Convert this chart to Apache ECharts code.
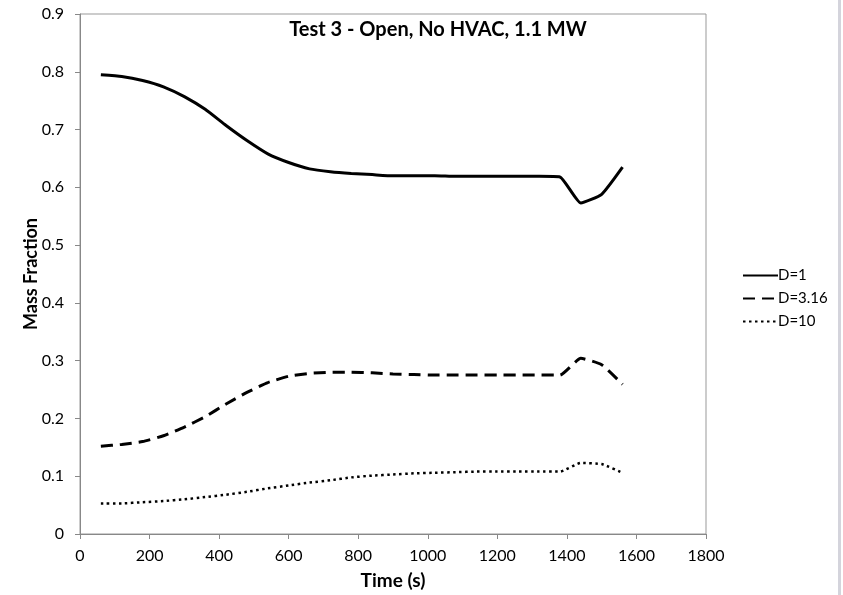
<!DOCTYPE html>
<html>
<head>
<meta charset="utf-8">
<script src="https://cdn.jsdelivr.net/npm/echarts@6/dist/echarts.min.js"></script>
<style>
    html, body { margin: 0; padding: 0; background: #fff; }
    #main { width: 843px; height: 595px; }
</style>
</head>
<body>
<div id="main"></div>
<script>
// 时间 (s)
var times = [60, 120, 180, 240, 300, 360, 420, 480, 540, 600, 660, 720, 780, 840, 900,
    960, 1020, 1080, 1140, 1200, 1260, 1320, 1380, 1440, 1500, 1560]

var d1 = [0.795, 0.792, 0.785, 0.774, 0.757, 0.735, 0.707, 0.681, 0.658, 0.643, 0.632, 0.627, 0.624,
    0.622, 0.620, 0.620, 0.620, 0.619, 0.619, 0.619, 0.619, 0.619, 0.618, 0.573, 0.588, 0.635]

var d316 = [0.152, 0.155, 0.160, 0.170, 0.185, 0.203, 0.225, 0.245, 0.262, 0.273, 0.278, 0.280, 0.280,
    0.279, 0.277, 0.276, 0.275, 0.275, 0.275, 0.275, 0.275, 0.275, 0.275, 0.304, 0.293, 0.259]

var d10 = [0.053, 0.053, 0.055, 0.057, 0.060, 0.064, 0.068, 0.073, 0.079, 0.084, 0.089, 0.093, 0.098,
    0.101, 0.103, 0.105, 0.106, 0.107, 0.108, 0.108, 0.108, 0.108, 0.108, 0.123, 0.121, 0.106]

var seriesNames = ['D=1', 'D=3.16', 'D=10']

function pairs(xs, ys){
    return xs.map(function(x, i){ return [x, ys[i]] })
}

var font = 'Lato, "Open Sans", sans-serif'
var axisGray = '#888888'

var chart = echarts.init(document.getElementById('main'))
var option = {
    animation: false,
    backgroundColor: '#fff',
    textStyle: { fontFamily: font },
    title: {
        text: 'Test 3 - Open, No HVAC, 1.1 MW',
        left: 433,
        textAlign: 'center',
        top: 15,
        textStyle: { fontSize: 20, fontWeight: 'bold', color: '#000', fontFamily: font }
    },
    grid: {
        left: 80,
        right: 137,
        top: 14,
        bottom: 61,
        show: true,
        borderColor: '#999999',
        borderWidth: 1
    },
    legend: {
        orient: 'vertical',
        left: 737,
        top: 263,
        itemWidth: 35,
        itemHeight: 14,
        itemGap: 8,
        itemStyle: { opacity: 0 },
        textStyle: { fontSize: 15, color: '#000', fontFamily: font, padding: [0, 0, 0, -5] },
        data: seriesNames
    },
    xAxis: {
        type: 'value',
        min: 0,
        max: 1800,
        interval: 200,
        name: 'Time (s)',
        nameLocation: 'middle',
        nameGap: 37,
        nameMoveOverlap: false,
        nameTextStyle: { fontSize: 19, fontWeight: 'bold', color: '#000' },
        axisLine: { lineStyle: { color: axisGray } },
        axisTick: { show: true, length: 5, lineStyle: { color: axisGray } },
        axisLabel: {
            fontSize: 16,
            color: '#000',
            margin: 14,
            formatter: function(v){ return String(v) }
        },
        splitLine: { show: false }
    },
    yAxis: {
        type: 'value',
        min: 0,
        max: 0.9,
        interval: 0.1,
        name: 'Mass Fraction',
        nameLocation: 'middle',
        nameGap: 40,
        nameMoveOverlap: false,
        nameTextStyle: { fontSize: 18, fontWeight: 'bold', color: '#000' },
        axisLine: { show: true, lineStyle: { color: axisGray } },
        axisTick: { show: true, length: 5, lineStyle: { color: axisGray } },
        axisLabel: {
            fontSize: 16,
            color: '#000',
            margin: 16,
            formatter: function(v){ return v === 0 ? '0' : v.toFixed(1) }
        },
        splitLine: { show: false }
    },
    graphic: [{
        type: 'rect',
        shape: { x: 838, y: 0, width: 3, height: 595 },
        style: { fill: '#d4d4dc' },
        silent: true
    }],
    series: [
        {
            name: seriesNames[0],
            type: 'line',
            symbol: 'none',
            smooth: 0.15,
            lineStyle: { color: '#000', width: 3 },
            itemStyle: { color: '#000' },
            data: pairs(times, d1)
        },
        {
            name: seriesNames[1],
            type: 'line',
            symbol: 'none',
            smooth: 0.15,
            lineStyle: { color: '#000', width: 3, type: [12, 7] },
            itemStyle: { color: '#000' },
            data: pairs(times, d316)
        },
        {
            name: seriesNames[2],
            type: 'line',
            symbol: 'none',
            smooth: 0.15,
            lineStyle: { color: '#000', width: 2.5, type: [2.5, 3.5] },
            itemStyle: { color: '#000' },
            data: pairs(times, d10)
        }
    ]
}

chart.setOption(option)
</script>
</body>
</html>
